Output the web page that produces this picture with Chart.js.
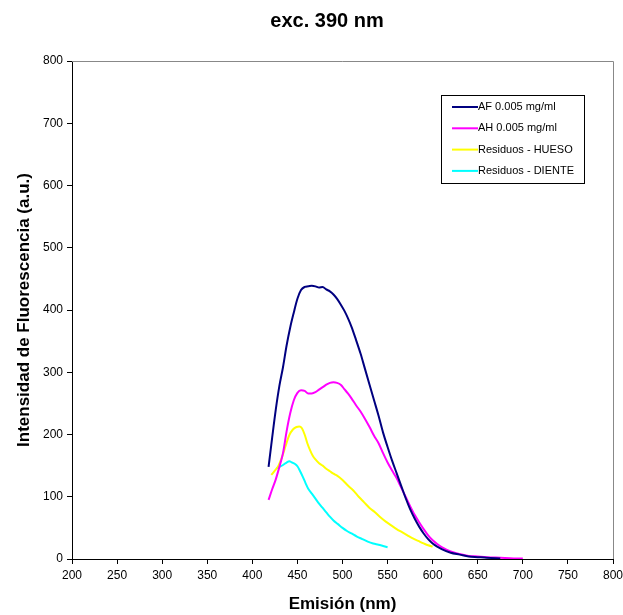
<!DOCTYPE html>
<html>
<head>
<meta charset="utf-8">
<script src="https://cdn.jsdelivr.net/npm/chart.js@4/dist/chart.umd.min.js"></script>
<style>
  html, body { margin: 0; padding: 0; background: #fff; }
  #wrap { width: 623px; height: 615px; position: relative; }
</style>
</head>
<body>
<div id="wrap"><canvas id="chart" width="623" height="615"></canvas></div>
<script>
// Fluorescence emission spectra, excitation 390 nm

const afX = [418, 422, 426, 430, 434, 438, 442, 446, 450, 454, 458, 462, 466, 470, 474, 478, 482, 486, 490, 494, 498, 502, 506, 510, 515, 520, 525, 530, 535, 540, 545, 550, 555, 560, 565, 570, 575, 580, 585, 590, 595, 600, 605, 610, 620, 630, 640, 650, 660, 675];
const afY = [148, 195, 240, 278, 308, 343, 372, 396, 418, 432, 437, 438, 439, 438, 436, 437, 433, 430, 425, 418, 409, 399, 387, 373, 352, 330, 305, 280, 255, 230, 203, 180, 158, 138, 118, 98, 80, 65, 52, 41, 32, 25, 20, 16, 10, 7, 4, 3, 2, 1];

const ahX = [418, 422, 426, 430, 434, 438, 442, 446, 450, 454, 458, 462, 466, 470, 474, 478, 482, 486, 490, 494, 498, 502, 506, 510, 515, 520, 525, 530, 535, 540, 545, 550, 555, 560, 565, 570, 575, 580, 585, 590, 595, 600, 605, 610, 620, 630, 640, 650, 660, 675, 690, 700];
const ahY = [95, 112, 128, 148, 170, 205, 234, 255, 267, 271, 270, 266, 266, 268, 272, 276, 280, 283, 284, 283, 280, 273, 266, 258, 247, 237, 225, 212, 198, 186, 170, 155, 142, 130, 115, 100, 85, 71, 59, 48, 38, 30, 24, 19, 12, 8, 5, 4, 3, 2, 1, 1];

const huesoX = [421, 425, 429, 433, 437, 441, 445, 449, 452, 455, 458, 461, 464, 467, 470, 474, 478, 482, 486, 490, 494, 500, 506, 512, 518, 524, 530, 536, 542, 548, 554, 560, 566, 572, 578, 584, 590, 595, 600];
const huesoY = [135, 142, 150, 164, 182, 199, 208, 212, 213, 210, 200, 186, 175, 166, 160, 154, 150, 145, 141, 137, 134, 127, 118, 110, 100, 91, 82, 75, 67, 60, 54, 48, 43, 38, 33, 29, 25, 22, 20];

const dienteX = [427, 430, 434, 438, 441, 444, 447, 450, 453, 456, 459, 462, 466, 470, 474, 478, 482, 486, 490, 495, 500, 505, 510, 516, 522, 528, 534, 540, 545, 550];
const dienteY = [146, 148, 151, 155, 157, 155, 153, 149, 141, 132, 122, 113, 105, 97, 89, 82, 75, 68, 62, 56, 50, 45, 41, 36, 32, 28, 25, 23, 21, 19];

const seriesNames = ['AF 0.005 mg/ml', 'AH 0.005 mg/ml', 'Residuos - HUESO', 'Residuos - DIENTE'];
const seriesColors = ['#000080', '#ff00ff', '#ffff00', '#00ffff'];

const toPoints = (xs, ys) => xs.map((x, i) => ({ x: x, y: ys[i] }));

const FONT = "'Liberation Sans', Arial, sans-serif";

// plot frame, title and boxed legend
const framePlugin = {
    id: 'frame',
    afterDraw(chart) {
        const ctx = chart.ctx;
        const a = chart.chartArea;
        ctx.save();
        // gray top/right edges
        ctx.strokeStyle = '#888888';
        ctx.lineWidth = 1;
        ctx.beginPath();
        ctx.moveTo(a.left, a.top + 0.5);
        ctx.lineTo(a.right + 0.5, a.top + 0.5);
        ctx.lineTo(a.right + 0.5, a.bottom);
        ctx.stroke();

        // title
        ctx.fillStyle = '#000';
        ctx.font = 'bold 20px ' + FONT;
        ctx.textAlign = 'center';
        ctx.textBaseline = 'alphabetic';
        ctx.fillText('exc. 390 nm', 327, 27);

        // legend box
        const bx = 441.5, by = 95.5, bw = 143, bh = 88;
        ctx.strokeStyle = '#000';
        ctx.fillStyle = '#fff';
        ctx.fillRect(bx, by, bw, bh);
        ctx.strokeRect(bx, by, bw, bh);
        ctx.font = '11px ' + FONT;
        ctx.textAlign = 'left';
        ctx.textBaseline = 'middle';
        chart.data.datasets.forEach((ds, i) => {
            const y = 107 + i * 21.3;
            ctx.strokeStyle = ds.borderColor;
            ctx.lineWidth = 2;
            ctx.beginPath();
            ctx.moveTo(452, y);
            ctx.lineTo(478, y);
            ctx.stroke();
            ctx.fillStyle = '#000';
            ctx.fillText(ds.label, 478, y);
        });
        ctx.restore();
    }
};

const datasets = [
    toPoints(afX, afY),
    toPoints(ahX, ahY),
    toPoints(huesoX, huesoY),
    toPoints(dienteX, dienteY)
].map((pts, i) => ({
    label: seriesNames[i],
    data: pts,
    borderColor: seriesColors[i],
    backgroundColor: seriesColors[i],
    borderWidth: 2,
    pointRadius: 0,
    cubicInterpolationMode: 'monotone',
    fill: false
}));

new Chart(document.getElementById('chart').getContext('2d'), {
    type: 'line',
    data: { datasets: datasets },
    plugins: [framePlugin],
    options: {
        responsive: false,
        animation: false,
        layout: {
            padding: { top: 61, right: 10, left: 0, bottom: 0 }
        },
        plugins: {
            legend: { display: false },
            title: { display: false },
            tooltip: { enabled: false }
        },
        scales: {
            x: {
                type: 'linear',
                min: 200,
                max: 800,
                afterFit: scale => {
                    scale.height = 56;
                    scale.paddingLeft = 0;
                    scale.paddingRight = 0;
                },
                ticks: {
                    stepSize: 50,
                    color: '#000',
                    font: { family: FONT, size: 12 },
                    padding: 4
                },
                grid: {
                    drawOnChartArea: false,
                    drawTicks: true,
                    tickLength: 5,
                    color: '#000'
                },
                border: { display: true, color: '#000', width: 1 },
                title: {
                    display: true,
                    text: 'Emisión (nm)',
                    color: '#000',
                    font: { family: FONT, size: 17, weight: 'bold' },
                    padding: { top: 0, bottom: 0 }
                }
            },
            y: {
                type: 'linear',
                min: 0,
                max: 800,
                afterFit: scale => { scale.width = 72; },
                ticks: {
                    stepSize: 100,
                    color: '#000',
                    font: { family: FONT, size: 12 },
                    padding: 4
                },
                grid: {
                    drawOnChartArea: false,
                    drawTicks: true,
                    tickLength: 5,
                    color: '#000'
                },
                border: { display: true, color: '#000', width: 1 },
                title: {
                    display: true,
                    text: 'Intensidad de Fluorescencia (a.u.)',
                    color: '#000',
                    font: { family: FONT, size: 17, weight: 'bold' },
                    padding: { top: 14, bottom: 0 }
                }
            }
        }
    }
});
</script>
</body>
</html>
